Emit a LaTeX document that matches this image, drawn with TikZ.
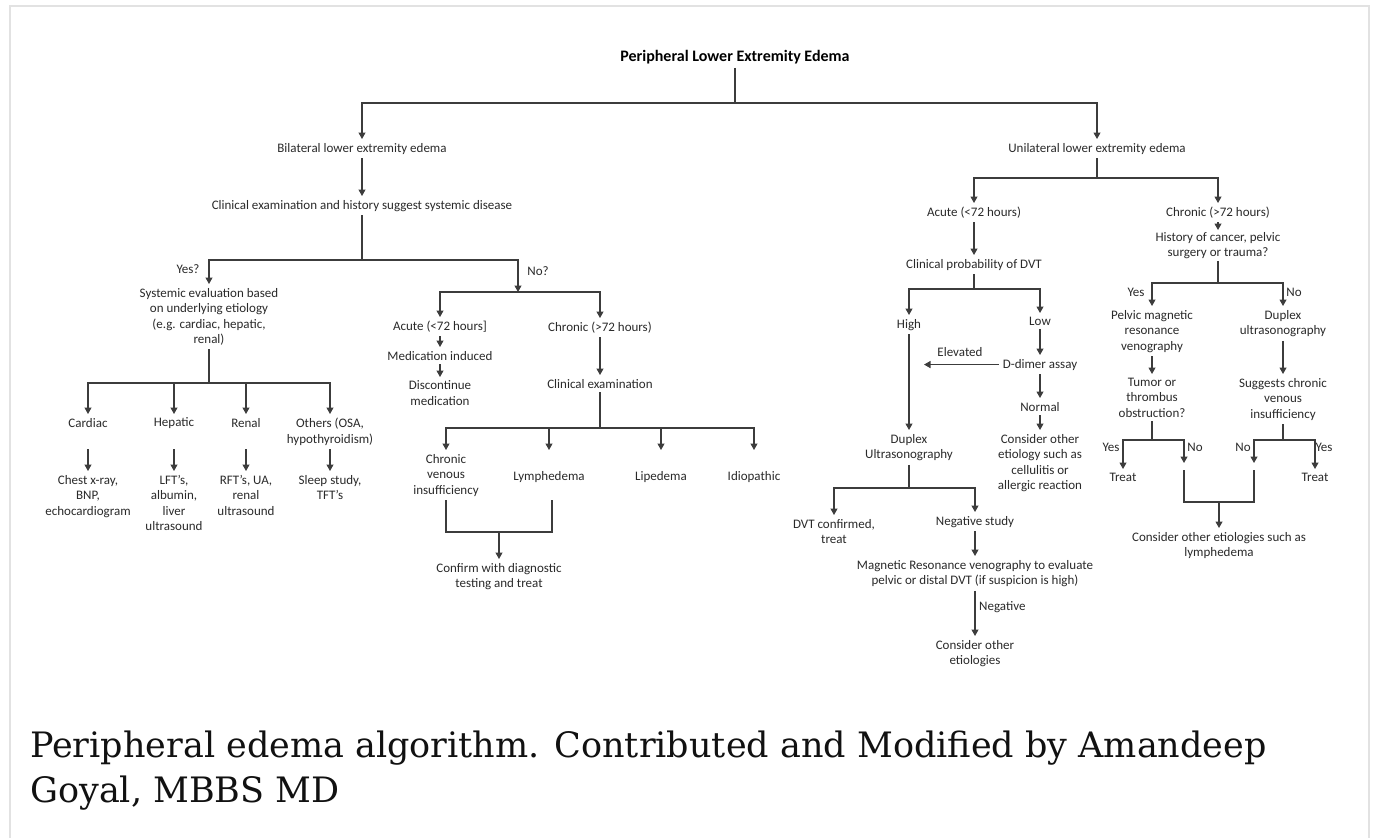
\documentclass[tikz,border=0pt]{standalone}
\usepackage{fontspec}
\setmainfont{Carlito}
\newfontfamily\capfamily{DejaVu Serif}
\usetikzlibrary{arrows.meta}
\definecolor{txt}{HTML}{2A2A2A}
\definecolor{lnc}{HTML}{3C3C3C}
\definecolor{framec}{HTML}{E2E2E2}
\definecolor{capc}{HTML}{111111}
\newcommand\dgfont{\fontsize{13}{15.5}\selectfont}
\tikzset{
  box/.style={font=\dgfont, text=txt, align=center, inner sep=1pt, outer sep=3pt, anchor=north, yshift=7pt},
  lbl/.style={font=\dgfont, text=txt, inner sep=0pt},
  ln/.style={draw=lnc, line width=1.1pt},
  arr/.style={ln, -{Triangle[length=6.5pt,width=7pt]}},
  captxt/.style={font=\capfamily\fontsize{35}{45}\selectfont, text=capc, inner sep=0pt, anchor=base west},
}
\begin{document}
\begin{tikzpicture}[x=1pt,y=-1pt]
\useasboundingbox (0,0) rectangle (1375,838);
\fill[white] (0,0) rectangle (1375,838);
\draw[framec, line width=2pt] (10,838) -- (10,6) -- (1369,6) -- (1369,838);

% ---------- nodes ----------
\node[font=\bfseries\fontsize{16}{18}\selectfont, text=black, inner sep=1pt, outer sep=3pt] (title) at (735,57) {Peripheral Lower Extremity Edema};

\node[box] (bil) at (362,146) {Bilateral lower extremity edema};
\node[box] (cesd) at (362,203) {Clinical examination and history suggest systemic disease};
\node[box] (sys) at (209,291) {Systemic evaluation based\\on underlying etiology\\(e.g. cardiac, hepatic,\\renal)};
\node[lbl] (yesq) at (188,269) {Yes?};
\node[lbl] (noq) at (538,271) {No?};

\node[box] (cardiac) at (88,421) {Cardiac};
\node[box] (hepatic) at (174,421) {Hepatic};
\node[box] (renal) at (246,421) {Renal};
\node[box] (others) at (330,421) {Others (OSA,\\hypothyroidism)};
\node[box] (chest) at (88,478) {Chest x-ray,\\BNP,\\echocardiogram};
\node[box] (lft) at (174,478) {LFT's,\\albumin,\\liver\\ultrasound};
\node[box] (rft) at (246,478) {RFT's, UA,\\renal\\ultrasound};
\node[box] (sleep) at (330,478) {Sleep study,\\TFT's};

\node[box] (acuteL) at (440,324) {Acute (<72 hours]};
\node[box] (med) at (440,354) {Medication induced};
\node[box] (disc) at (440,384) {Discontinue\\medication};
\node[box] (chronL) at (600,325) {Chronic (>72 hours)};
\node[box] (clin) at (600,382) {Clinical examination};
\node[box] (cvi) at (446,457) {Chronic\\venous\\insufficiency};
\node[box] (lymph) at (549,474) {Lymphedema};
\node[box] (lip) at (661,474) {Lipedema};
\node[box] (idio) at (754,474) {Idiopathic};
\node[box] (confirm) at (499,566) {Confirm with diagnostic\\testing and treat};

\node[box] (uni) at (1097,146) {Unilateral lower extremity edema};
\node[box] (acuteR) at (974,210) {Acute (<72 hours)};
\node[box] (cpd) at (974,262) {Clinical probability of DVT};
\node[box] (high) at (909,322) {High};
\node[box] (low) at (1040,320) {Low};
\node[box] (ddimer) at (1040,362) {D-dimer assay};
\node[lbl] (elev) at (960,352) {Elevated};
\node[box] (duplexR) at (909,437) {Duplex\\Ultrasonography};
\node[box] (normal) at (1040,405) {Normal};
\node[box] (coe) at (1040,437) {Consider other\\etiology such as\\cellulitis or\\allergic reaction};
\node[box] (dvt) at (834,522) {DVT confirmed,\\treat};
\node[box] (neg) at (975,519) {Negative study};
\node[box] (mrv) at (975,563) {Magnetic Resonance venography to evaluate\\pelvic or distal DVT (if suspicion is high)};
\node[lbl, anchor=west] (negl) at (979,607) {Negative};
\node[box] (coe2) at (975,643) {Consider other\\etiologies};

\node[box] (chronR) at (1218,210) {Chronic (>72 hours)};
\node[box, outer sep=1pt] (hist) at (1218,237) {History of cancer, pelvic\\surgery or trauma?};
\node[lbl] (yesR) at (1136,292) {Yes};
\node[lbl] (noR) at (1294,292) {No};
\node[box] (pmrv) at (1152,313) {Pelvic magnetic\\resonance\\venography};
\node[box] (dup2) at (1283,313) {Duplex\\ultrasonography};
\node[box] (tumor) at (1152,381) {Tumor or\\thrombus\\obstruction?};
\node[box] (sugg) at (1283,381) {Suggests chronic\\venous\\insufficiency};
\node[lbl] (yes1) at (1111,447) {Yes};
\node[lbl] (no1) at (1195,447) {No};
\node[lbl] (no2) at (1243,447) {No};
\node[lbl] (yes2) at (1324,447) {Yes};
\node[box] (treat1) at (1123,476) {Treat};
\node[box] (treat2) at (1315,476) {Treat};
\node[box] (coe3) at (1219,535) {Consider other etiologies such as\\lymphedema};

% ---------- coordinates ----------
\coordinate (j0) at (735,103);
\coordinate (jb) at (362,260);
\coordinate (jn) at (518,292);
\coordinate (js) at (209,383);
\coordinate (jc) at (600,428);
\coordinate (jcv) at (499,532);
\coordinate (ju) at (1097,178);
\coordinate (jp) at (974,289);
\coordinate (ea) at (924,362);
\coordinate (jd) at (909,488);
\coordinate (jh) at (1218,283);
\coordinate (jt) at (1152,440);
\coordinate (ta) at (1184,463);
\coordinate (tb) at (1184,470);
\coordinate (jq) at (1283,440);
\coordinate (sa) at (1254,463);
\coordinate (sb) at (1254,470);
\coordinate (jl) at (1219,502);

% ---------- connectors ----------
\draw[ln] (title.south) -- (j0);
\draw[arr] (j0) -| (bil.north);
\draw[arr] (j0) -| (uni.north);

\draw[arr] (bil.south) -- (cesd.north);
\draw[ln] (cesd.south) -- (jb);
\draw[arr] (jb) -| (sys.north);
\draw[arr] (jb) -| (jn);
\draw[ln] (sys.south) -- (js);
\draw[arr] (js) -| (cardiac.north);
\draw[arr] (js) -| (hepatic.north);
\draw[arr] (js) -| (renal.north);
\draw[arr] (js) -| (others.north);
\draw[arr] (cardiac |- others.south) -- (chest.north);
\draw[arr] (hepatic |- others.south) -- (lft.north);
\draw[arr] (renal |- others.south) -- (rft.north);
\draw[arr] (others.south) -- (sleep.north);

\draw[arr] (jn) -| (acuteL.north);
\draw[arr] (jn) -| (chronL.north);
\draw[arr] (acuteL.south) -- (med.north);
\draw[arr] (med.south) -- (disc.north);
\draw[arr] (chronL.south) -- (clin.north);
\draw[ln] (clin.south) -- (jc);
\draw[arr] (jc) -| (cvi.north);
\draw[arr] (jc) -| (lymph |- cvi.north);
\draw[arr] (jc) -| (lip |- cvi.north);
\draw[arr] (jc) -| (idio |- cvi.north);
\draw[ln] (cvi.south) |- (jcv) -| ([xshift=3pt]lymph.south |- cvi.south);
\draw[arr] (jcv) -- (confirm.north);

\draw[ln] (uni.south) -- (ju);
\draw[arr] (ju) -| (acuteR.north);
\draw[arr] (ju) -| (chronR.north);
\draw[arr] (acuteR.south) -- (cpd.north);
\draw[ln] (cpd.south) -- (jp);
\draw[arr] (jp) -| (high.north);
\draw[arr] (jp) -| (low.north);
\draw[arr] (low.south) -- (ddimer.north);
\draw[arr] (ddimer.west) -- (ddimer.west -| ea);
\draw[arr] (high.south) -- (duplexR.north);
\draw[arr] (ddimer.south) -- (normal.north);
\draw[arr] (normal.south) -- (coe.north);
\draw[ln] (duplexR.south) -- (jd);
\draw[arr] (jd) -| (dvt.north);
\draw[arr] (jd) -| (neg.north);
\draw[arr] (neg.south) -- (mrv.north);
\draw[arr] (mrv.south) -- (coe2.north);

\draw[arr] (chronR.south) -- (hist.north);
\draw[ln] (hist.south) -- (jh);
\draw[arr] (jh) -| (pmrv.north);
\draw[arr] (jh) -| (dup2.north);
\draw[arr] (pmrv.south) -- (tumor.north);
\draw[arr] (dup2.south) -- (sugg.north);
\draw[ln] (tumor.south) -- (jt);
\draw[arr] (jt) -| (treat1.north);
\draw[arr] (jt) -| (ta);
\draw[ln] (sugg.south) -- (jq);
\draw[arr] (jq) -| (sa);
\draw[arr] (jq) -| (treat2.north);
\draw[ln] (tb) |- (jl) -| (sb);
\draw[arr] (jl) -- (coe3.north);

% ---------- caption ----------
\node[captxt] (cap1) at (30,757) {Peripheral edema algorithm. Contributed and Modified by Amandeep};
\node[captxt] (cap2) at (30,802) {Goyal, MBBS MD};
\end{tikzpicture}
\end{document}
